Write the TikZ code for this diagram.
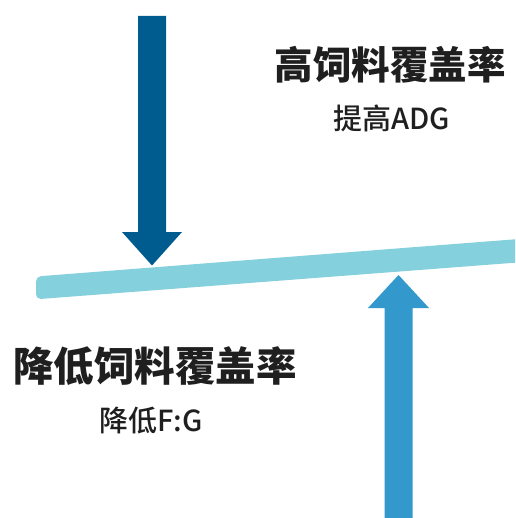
\documentclass[tikz,border=0pt]{standalone}
\usepackage{fontspec}
\newfontfamily\cjk{Noto Sans CJK SC}
\newfontfamily\cjkm{Noto Sans CJK SC Medium}
\definecolor{darkarrow}{HTML}{005B8F}
\definecolor{lightarrow}{HTML}{3399CC}
\definecolor{beamcol}{HTML}{84D0DC}
\begin{document}
\begin{tikzpicture}[x=1pt,y=-1pt,
  title/.style={font=\cjk\bfseries\fontsize{38.5}{40}\selectfont, text=black!88, inner sep=0pt},
  subtitle/.style={font=\cjkm\fontsize{29}{30}\selectfont, text=black!88, inner sep=0pt}]
\useasboundingbox (0,0) rectangle (515,518);
% beam
\fill[beamcol] (515,262.7) -- (515,239.3) [rounded corners=5pt] -- (36,276.5) -- (36,299.3) [sharp corners] -- cycle;
% down arrow
\fill[darkarrow] (138,16) -- (166,16) -- (166,232) -- (182,232) -- (152,265.5) -- (122,232) -- (138,232) -- cycle;
% up arrow
\fill[lightarrow] (384.5,518) -- (412.5,518) -- (412.5,308) -- (429,308) -- (398.5,275) -- (368,308) -- (384.5,308) -- cycle;
% texts
\node[title] (t1) at (390,65) {高饲料覆盖率};
\node[subtitle] (s1) at (391.5,118) {提高ADG};
\node[title, font=\cjk\bfseries\fontsize{40.5}{42}\selectfont] (t2) at (155,366) {降低饲料覆盖率};
\node[subtitle] (s2) at (151,421) {降低F:G};
\end{tikzpicture}
\end{document}
